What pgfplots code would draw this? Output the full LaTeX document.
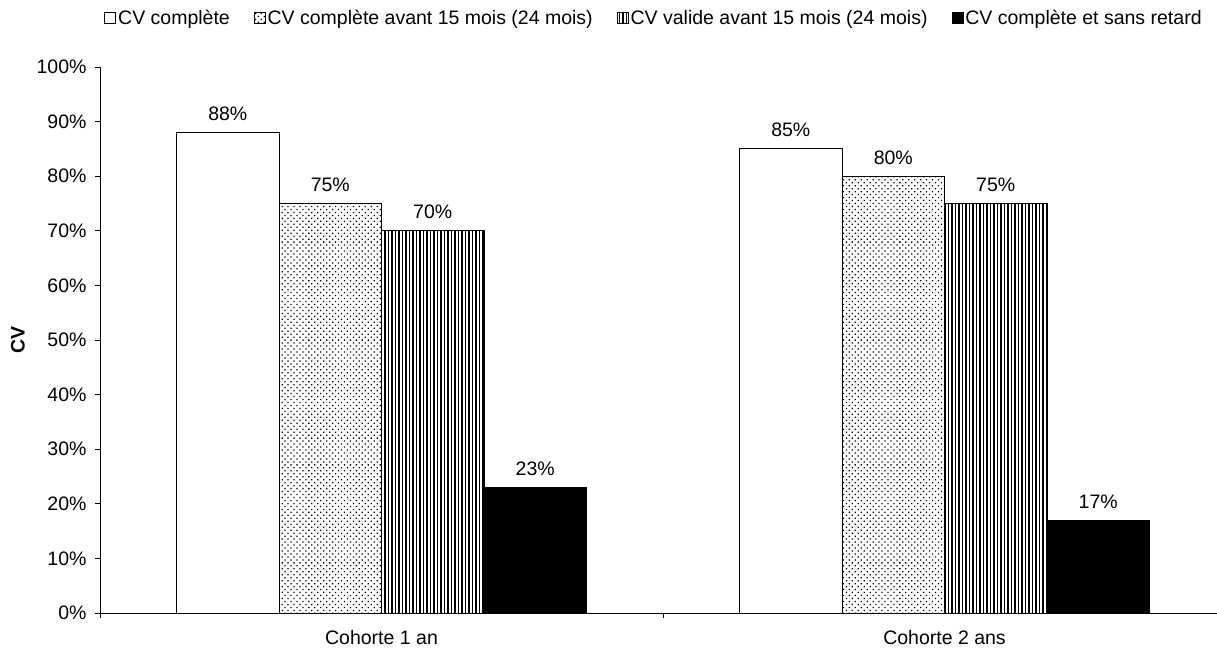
\documentclass[border=0pt]{standalone}
\usepackage{pgfplots}
\pgfplotsset{compat=1.18}
\usepackage{pgfplotstable}
\usetikzlibrary{patterns.meta}
\usepackage{fontspec}
\setmainfont{Liberation Sans}

% Share of children with the CV, per cohort (%)
\pgfplotstableread{
x  complete before valid ontime
0  88       75     70    23
1  85       80     75    17
}\cvdata

\begin{document}
\begin{tikzpicture}
\begin{axis}[
  name=cv,
  scale only axis, width=1117pt, height=546pt,
  xmin=-0.5, xmax=1.484, ymin=0, ymax=100,
  ybar=0pt, bar width=0.182,
  axis x line*=bottom, axis y line*=left,
  axis line style={-, line width=0.9pt, black},
  font=\fontsize{19.5}{22}\selectfont,
  /pgf/number format/assume math mode=true,
  ytick={0,10,...,100},
  yticklabel={\pgfmathprintnumber{\tick}\%},
  yticklabel style={xshift=-5pt},
  tick align=outside, major tick length=5pt,
  tick style={black, line width=0.9pt},
  xtick={-0.5,0.5,1.5}, xticklabels={},
  extra x ticks={0,1},
  extra x tick labels={Cohorte 1 an, Cohorte 2 ans},
  extra x tick style={major tick length=0pt, xticklabel style={yshift=-14pt}},
  every axis y label/.style={at={(axis description cs:-0.0734,0.5)}, rotate=90, anchor=center},
  ylabel={\textbf{CV}},
  nodes near coords={\pgfmathprintnumber{\pgfplotspointmeta}\%},
  every node near coord/.append style={black, yshift=8pt, font=\fontsize{19.5}{22}\selectfont},
  legend columns=4,
  legend style={at={(axis description cs:0.496,1.108)}, anchor=north, draw=none, fill=none,
    inner sep=0pt, font=\fontsize{19.5}{22}\selectfont,
    /tikz/every even column/.append style={column sep=22pt}},
  legend image code/.code={\draw[#1, line width=0.8pt] (0pt,-5.5pt) rectangle (11pt,5.5pt);},
]
\addplot[draw=black, fill=white, line width=0.9pt] table[x=x, y=complete] {\cvdata};
\addplot[draw=black, line width=0.9pt, pattern={Dots[distance=4.2pt, angle=45, radius=0.9pt]}, pattern color=black] table[x=x, y=before] {\cvdata};
\addplot[draw=black, line width=0.9pt, pattern={Lines[distance=3.5pt, angle=90, line width=1.5pt]}, pattern color=black] table[x=x, y=valid] {\cvdata};
\addplot[draw=black, fill=black, line width=0.9pt] table[x=x, y=ontime] {\cvdata};
\legend{CV complète, CV complète avant 15 mois (24 mois), CV valide avant 15 mois (24 mois), CV complète et sans retard}
\end{axis}
\pgfresetboundingbox
\useasboundingbox ([xshift=-100pt, yshift=-36pt]cv.south west) rectangle ([yshift=67pt]cv.north east);
\end{tikzpicture}
\end{document}
